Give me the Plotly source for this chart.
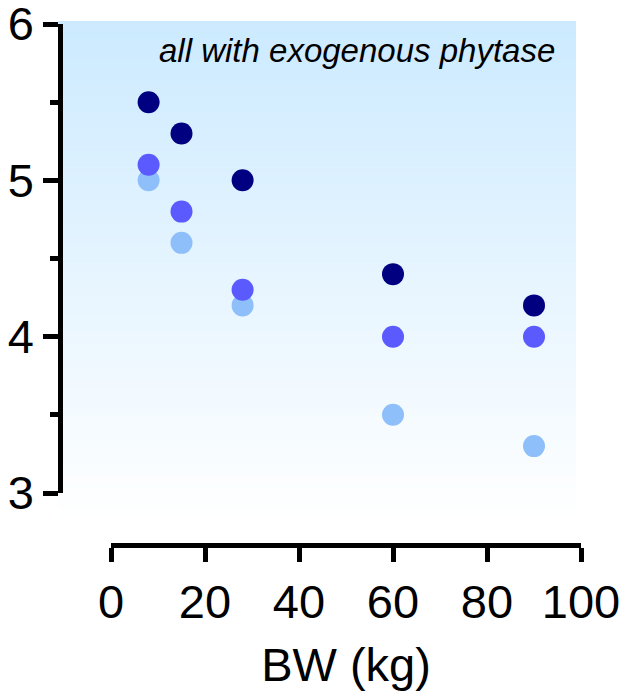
import plotly.graph_objects as go

# Data
bw = [8, 15, 28, 60, 90]
series_names = ["light", "mid", "dark"]
light_vals = [5.0, 4.6, 4.2, 3.5, 3.3]
mid_vals = [5.1, 4.8, 4.3, 4.0, 4.0]
dark_vals = [5.5, 5.3, 5.0, 4.4, 4.2]
x_ticks = [0, 20, 40, 60, 80, 100]
y_ticks = [3, 4, 5, 6]

W, H = 625, 697
def px(x):
    return x / W
def py(y):
    return 1 - y / H

colors = {"light": "#8FBFFA", "mid": "#5A5AFF", "dark": "#000080"}
vals = {"light": light_vals, "mid": mid_vals, "dark": dark_vals}

fig = go.Figure()
for name in series_names:
    fig.add_trace(go.Scatter(
        x=bw, y=vals[name], mode="markers", name=name,
        marker=dict(size=22, color=colors[name], line=dict(width=0)),
        showlegend=False, cliponaxis=False,
    ))

# gradient background (strips)
shapes = []
top, bot = 21, 522
n = 120
c0 = (204, 234, 255)
c1 = (255, 255, 255)
for i in range(n):
    y0 = top + (bot - top) * i / n
    y1 = top + (bot - top) * (i + 1) / n + 0.6
    t = (i + 0.5) / n
    c = tuple(round(c0[k] + (c1[k] - c0[k]) * t) for k in range(3))
    shapes.append(dict(type="rect", xref="paper", yref="paper",
                       x0=px(58), x1=px(576), y0=py(y1), y1=py(y0),
                       fillcolor="rgb(%d,%d,%d)" % c, line=dict(width=0),
                       layer="below"))

font = "Liberation Sans, Arial, sans-serif"
fig.update_layout(
    width=W, height=H, autosize=False,
    margin=dict(l=0, r=0, t=0, b=0),
    paper_bgcolor="white", plot_bgcolor="rgba(0,0,0,0)",
    shapes=shapes,
    xaxis=dict(domain=[px(111), px(581)], anchor="free", position=py(545),
               range=[0, 100], tickvals=x_ticks, ticks="outside",
               ticklen=14, tickwidth=4.5, tickcolor="black",
               showline=True, linewidth=4.5, linecolor="black",
               showgrid=False, zeroline=False, ticklabeloverflow="allow",
               tickfont=dict(family=font, size=47, color="black"),
               title=dict(text="BW (kg)", font=dict(family=font, size=47, color="black"),
                          standoff=20),
               automargin=False),
    yaxis=dict(domain=[py(493), py(24)], anchor="free", position=px(60),
               range=[3, 6], tickvals=y_ticks, ticks="outside",
               ticklen=15, tickwidth=4.5, tickcolor="black",
               minor=dict(dtick=0.5, tick0=3, ticks="outside", ticklen=8,
                          tickwidth=4.5, tickcolor="black"),
               showline=True, linewidth=4.5, linecolor="black",
               showgrid=False, zeroline=False, ticklabeloverflow="allow",
               tickfont=dict(family=font, size=47, color="black"),
               automargin=False),
    annotations=[dict(text="<i>all with exogenous phytase</i>", xref="paper", yref="paper",
                      x=px(557), y=py(50), xanchor="right", yanchor="middle",
                      showarrow=False,
                      font=dict(family=font, size=33, color="black"))],
)

fig.write_html("out.html")
